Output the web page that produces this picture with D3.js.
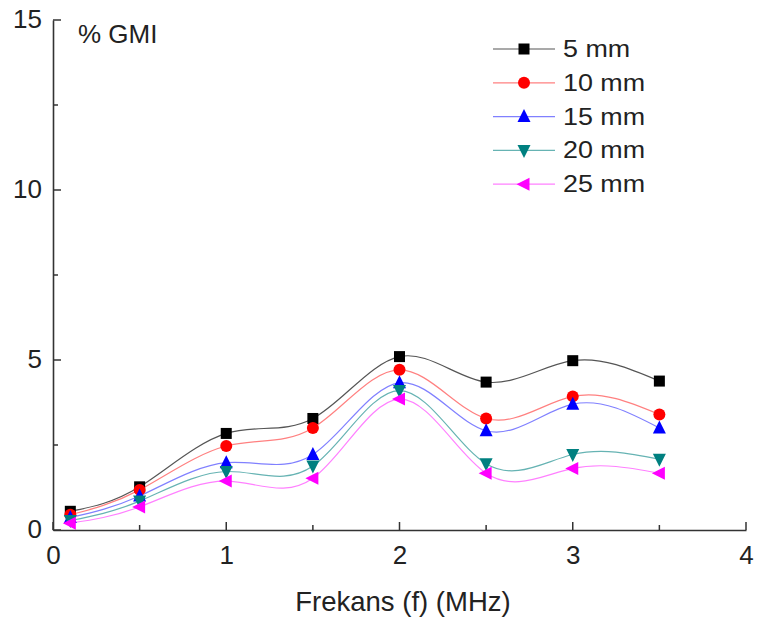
<!DOCTYPE html>
<html><head><meta charset="utf-8">
<script src="https://cdn.jsdelivr.net/npm/d3@7"></script>
<style>body{margin:0;background:#fff}svg{display:block}text{font-family:"Liberation Sans",Arial,sans-serif;fill:#222}</style>
</head><body>
<script>
const freqs = [0.1, 0.5, 1, 1.5, 2, 2.5, 3, 3.5];
const s5mm  = [0.55, 1.27, 2.84, 3.28, 5.10, 4.35, 4.98, 4.38];
const s10mm = [0.45, 1.18, 2.47, 3.00, 4.71, 3.28, 3.93, 3.40];
const s15mm = [0.37, 1.00, 1.98, 2.22, 4.33, 2.92, 3.70, 3.00];
const s20mm = [0.28, 0.85, 1.72, 1.88, 4.10, 1.95, 2.22, 2.08];
const s25mm = [0.20, 0.68, 1.44, 1.52, 3.85, 1.67, 1.81, 1.67];
const seriesNames = ["5 mm", "10 mm", "15 mm", "20 mm", "25 mm"];
const xTicks = [0, 1, 2, 3, 4];
const yTicks = [0, 5, 10, 15];
const yLabel = "% GMI";
const xLabel = "Frekans (f) (MHz)";

const series = [
  {name: seriesNames[0], values: s5mm,  line: "#555", fill: "#000", sym: "square"},
  {name: seriesNames[1], values: s10mm, line: "#ff8080", fill: "#ff0000", sym: "circle"},
  {name: seriesNames[2], values: s15mm, line: "#8080ff", fill: "#0000ff", sym: "up"},
  {name: seriesNames[3], values: s20mm, line: "#66b3b3", fill: "#008080", sym: "down"},
  {name: seriesNames[4], values: s25mm, line: "#ff80ff", fill: "#ff00ff", sym: "left"}
];

const W = 758, H = 621;
const svg = d3.select("body").append("svg").attr("width", W).attr("height", H);
const x = d3.scaleLinear().domain([0, 4]).range([53, 746]);
const y = d3.scaleLinear().domain([0, 15]).range([530, 20]);

function marker(g, sym, cx, cy, fill) {
  const r = 6.5;
  let el;
  if (sym === "square") el = g.append("rect").attr("x", cx - 5.5).attr("y", cy - 5.5).attr("width", 11).attr("height", 11);
  else if (sym === "circle") el = g.append("circle").attr("cx", cx).attr("cy", cy).attr("r", 6);
  else {
    let pts;
    if (sym === "up") pts = [[cx, cy - r - 1], [cx - r, cy + r - 1], [cx + r, cy + r - 1]];
    else if (sym === "down") pts = [[cx, cy + r + 1], [cx - r, cy - r + 1], [cx + r, cy - r + 1]];
    else pts = [[cx - r - 1, cy], [cx + r - 1, cy - r], [cx + r - 1, cy + r]];
    el = g.append("polygon").attr("points", pts.map(p => p.join(",")).join(" "));
  }
  el.attr("fill", fill);
}

// lines
const lineGen = d3.line().x(d => x(d[0])).y(d => y(d[1])).curve(d3.curveNatural);
const plot = svg.append("g");
series.forEach(s => {
  const data = freqs.map((f, i) => [f, s.values[i]]);
  plot.append("path").datum(data).attr("d", lineGen)
    .attr("fill", "none").attr("stroke", s.line).attr("stroke-width", 1.2);
});
series.forEach(s => {
  freqs.forEach((f, i) => marker(plot, s.sym, x(f), y(s.values[i]), s.fill));
});

// axes
const axisColor = "#333";
const xAxis = svg.append("g").attr("transform", "translate(0,530)")
  .call(d3.axisBottom(x).tickValues(xTicks).tickFormat(d3.format("d")).tickSize(0).tickPadding(16));
const yAxis = svg.append("g").attr("transform", "translate(53,0)")
  .call(d3.axisLeft(y).tickValues(yTicks).tickFormat(d3.format("d")).tickSize(0).tickPadding(11));
[xAxis, yAxis].forEach(a => {
  a.select(".domain").attr("stroke", axisColor).attr("stroke-width", 1.6);
  a.selectAll("text").style("font-size", "26px").attr("fill", "#222").style("font-family", '"Liberation Sans",Arial,sans-serif');
});
xAxis.selectAll("text").attr("dy", "0.71em");
yAxis.selectAll("text").attr("dy", "0.28em");
// inward ticks
const ticks = svg.append("g").attr("stroke", axisColor).attr("stroke-width", 1.5);
d3.range(0, 4.01, 0.5).forEach(v => {
  const len = Number.isInteger(v) ? 8 : 5;
  ticks.append("line").attr("x1", x(v)).attr("x2", x(v)).attr("y1", 530).attr("y2", 530 - len);
});
d3.range(0, 15.01, 2.5).forEach(v => {
  const len = Number.isInteger(v / 5) ? 8 : 5;
  ticks.append("line").attr("x1", 53).attr("x2", 53 + len).attr("y1", y(v)).attr("y2", y(v));
});

svg.append("text").attr("x", 78).attr("y", 43).style("font-size", "26px").text(yLabel);
svg.append("text").attr("x", 403).attr("y", 611).attr("text-anchor", "middle").style("font-size", "27.5px").text(xLabel);

// legend
const lg = svg.append("g");
series.forEach((s, i) => {
  const cy = 49 + i * 33.8;
  lg.append("line").attr("x1", 493).attr("x2", 555).attr("y1", cy).attr("y2", cy).attr("stroke", s.line).attr("stroke-width", 1.2);
  marker(lg, s.sym, 524, cy, s.fill);
  lg.append("text").attr("transform", `translate(563,${cy + 8}) scale(1.12,1)`).style("font-size", "24px").text(s.name);
});
</script>
</body></html>
